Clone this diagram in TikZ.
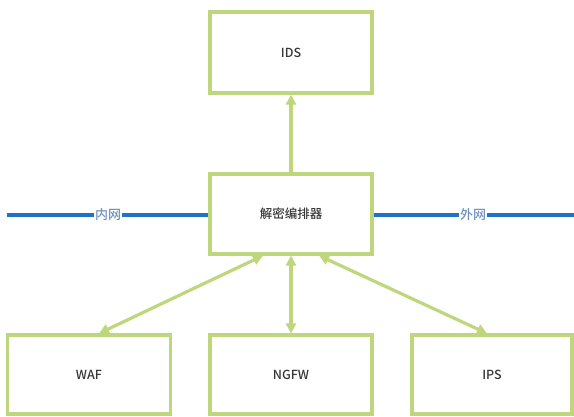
\documentclass[tikz,border=0pt]{standalone}
\usepackage{fontspec}
\setmainfont{Noto Sans CJK SC}
\newfontfamily\medfont{Noto Sans CJK SC Medium}
\usetikzlibrary{arrows.meta}
\definecolor{boxgreen}{RGB}{190,215,125}
\definecolor{netblue}{RGB}{30,115,200}
\definecolor{labblue}{RGB}{110,145,190}
\definecolor{txtgray}{RGB}{55,55,55}
\tikzset{
  devbox/.style={draw=boxgreen, line width=3.2pt, fill=white, minimum width=160pt, minimum height=79pt, inner sep=0pt, text=txtgray, font=\medfont\fontsize{12.5}{14}\selectfont},
  link/.style={draw=boxgreen, line width=3.2pt, -{Triangle[width=10pt,length=10pt]}},
  dlink/.style={draw=boxgreen, line width=3.2pt, {Triangle[width=10pt,length=10pt]}-{Triangle[width=10pt,length=10pt]}},
  net/.style={draw=netblue, line width=3.4pt},
  netlab/.style={fill=white, inner sep=1pt, text=labblue, font=\medfont\fontsize{13}{15}\selectfont}
}
\begin{document}
\begin{tikzpicture}[x=1pt,y=-1pt]
\useasboundingbox (0,0) rectangle (574,416);
\coordinate (L) at (7,215);
\coordinate (R) at (574,215);
\node[devbox, minimum width=162pt, minimum height=80pt] (dec) at (291,214) {解密编排器};
\draw[net] (L) -- (dec.west |- L);
\draw[net] (dec.east |- R) -- (R);
\node[netlab] (in) at (108,215) {内网};
\node[netlab] (out) at (473,215) {外网};
\node[devbox, minimum width=162pt, minimum height=81pt] (ids) at (291,52.5) {IDS};
\node[devbox, minimum width=163pt] (waf) at (89,374.5) {WAF};
\node[devbox, minimum width=162pt] (ngfw) at (291,374.5) {NGFW};
\node[devbox, minimum width=160pt] (ips) at (492,374.5) {IPS};
\draw[link] (dec.north) -- (ids.south);
\draw[dlink] ([xshift=-28pt]dec.south) -- ([xshift=10pt]waf.north);
\draw[dlink] (dec.south) -- (ngfw.north);
\draw[dlink] ([xshift=28pt]dec.south) -- ([xshift=-5pt]ips.north);
\end{tikzpicture}
\end{document}
